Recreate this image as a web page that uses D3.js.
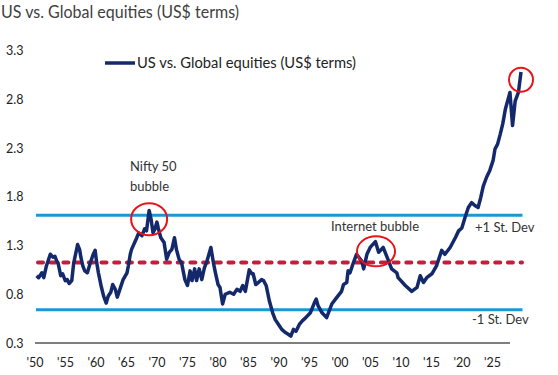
<!DOCTYPE html>
<html>
<head>
<meta charset="utf-8">
<script src="https://cdn.jsdelivr.net/npm/d3@7"></script>
<style>
  body { margin: 0; background: #fff; }
  text { font-family: Lato, "Open Sans", sans-serif; }
</style>
</head>
<body>
<div id="chart"></div>
<script>
// series: year, ratio
const years = [1950.1, 1950.4, 1950.9, 1951.2, 1951.6, 1952.2, 1952.6, 1952.9, 1953.2, 1953.4,
  1953.8, 1954.1, 1954.5, 1954.8, 1955.1, 1955.5, 1955.8, 1956.4, 1956.7, 1956.9,
  1957.2, 1957.5, 1957.9, 1958.3, 1958.8, 1959.1, 1959.3, 1959.6, 1960.0, 1960.4,
  1960.8, 1961.1, 1961.5, 1961.8, 1962.2, 1962.5, 1962.9, 1963.4, 1964.0, 1964.2,
  1964.5, 1964.7, 1965.5, 1965.8, 1966.3, 1966.7, 1967.0, 1967.4, 1967.7, 1968.0,
  1968.3, 1968.6, 1968.8, 1969.2, 1969.7, 1970.1, 1970.5, 1970.9, 1971.3, 1971.6,
  1972.0, 1972.4, 1972.9, 1973.3, 1973.7, 1974.0, 1974.4, 1974.7, 1975.1, 1975.5,
  1975.9, 1976.3, 1976.6, 1976.9, 1977.3, 1977.6, 1978.0, 1978.3, 1978.7, 1979.1,
  1979.8, 1980.4, 1980.9, 1981.4, 1981.8, 1982.2, 1982.8, 1983.2, 1983.4, 1983.8,
  1984.2, 1984.7, 1985.0, 1985.4, 1985.9, 1986.4, 1986.8, 1987.3, 1987.8, 1988.3,
  1988.8, 1989.2, 1989.6, 1990.0, 1990.5, 1991.0, 1991.5, 1992.2, 1992.8, 1993.1,
  1993.4, 1994.0, 1994.7, 1995.5, 1996.3, 1997.0, 1997.3, 1997.8, 1998.0, 1998.3,
  1998.8, 1999.3, 2000.1, 2000.4, 2000.9, 2001.4, 2002.2, 2002.7, 2003.4, 2004.0,
  2004.7, 2005.5, 2005.7, 2006.8, 2007.8, 2008.6, 2009.1, 2009.6, 2010.1, 2010.9,
  2011.6, 2012.4, 2012.9, 2013.7, 2014.5, 2015.0, 2015.5, 2016.0, 2016.5, 2017.0,
  2017.5, 2018.0, 2018.4, 2018.8, 2019.3, 2019.8, 2020.3, 2020.6, 2021.0, 2021.4,
  2021.8, 2022.2, 2022.7, 2022.9, 2023.3, 2023.7, 2024.2, 2024.6]
const ratio = [0.99, 0.97, 1.02, 0.97, 1.09, 1.21, 1.18, 1.19, 1.14, 1.12,
  0.99, 1.01, 0.94, 0.95, 0.91, 0.94, 1.12, 1.31, 1.26, 1.18,
  1.09, 1.04, 1.02, 1.11, 1.21, 1.25, 1.14, 1.02, 0.89, 0.78,
  0.71, 0.78, 0.82, 0.90, 0.85, 0.77, 0.85, 0.95, 1.02, 1.09,
  1.21, 1.26, 1.38, 1.43, 1.40, 1.47, 1.45, 1.66, 1.57, 1.43,
  1.47, 1.54, 1.48, 1.38, 1.33, 1.16, 1.23, 1.26, 1.38, 1.26,
  1.16, 1.12, 0.95, 0.89, 1.04, 0.94, 1.06, 0.94, 1.06, 0.95,
  1.07, 1.14, 1.21, 1.28, 1.12, 1.02, 0.90, 0.87, 0.70, 0.80,
  0.82, 0.80, 0.85, 0.83, 0.89, 0.83, 1.05, 1.01, 1.01, 0.90,
  0.92, 0.95, 0.94, 0.89, 0.73, 0.61, 0.54, 0.49, 0.44, 0.41,
  0.39, 0.37, 0.44, 0.42, 0.49, 0.53, 0.56, 0.61, 0.71, 0.75,
  0.68, 0.61, 0.56, 0.70, 0.77, 0.83, 0.90, 0.92, 1.04, 1.02,
  1.12, 1.21, 1.14, 1.06, 1.21, 1.28, 1.34, 1.23, 1.28, 1.18,
  1.06, 1.02, 0.97, 0.89, 0.83, 0.87, 0.99, 0.92, 0.97, 1.01,
  1.09, 1.25, 1.21, 1.28, 1.38, 1.45, 1.48, 1.59, 1.69, 1.74,
  1.71, 1.69, 1.79, 1.91, 2.00, 2.07, 2.17, 2.29, 2.34, 2.44,
  2.55, 2.70, 2.82, 2.87, 2.53, 2.78, 2.87, 3.08]

const yTicks = [0.3, 0.8, 1.3, 1.8, 2.3, 2.8, 3.3]
const xLabels = ["'50", "'55", "'60", "'65", "'70", "'75", "'80", "'85", "'90", "'95",
  "'00", "'05", "'10", "'15", "'20", "'25"]

const meanLevel = 1.125
const sdLevels = [1.61, 0.64]
const sdNames = ["+1 St. Dev", "-1 St. Dev"]

// circled episodes: year, value, rx, ry
const circleYears = [1967.4, 2002.3, 2024.6]
const circleValues = [1.57, 1.24, 3.0]
const circleRx = [18, 19, 12]
const circleRy = [16, 15, 12]

const width = 558, height = 375

const x = d3.scaleLinear().domain([1950, 2024.6]).range([36, 521])
const y = d3.scaleLinear().domain([0.3, 3.3]).range([343, 50.5])
const xLab = d3.scalePoint().domain(xLabels).range([35, 492.5])

const data = years.map((yr, i) => ({ year: yr, value: ratio[i] }))

const svg = d3.select("#chart").append("svg")
  .attr("width", width)
  .attr("height", height)

// title
svg.append("text")
  .attr("x", 1)
  .attr("y", 18)
  .attr("font-size", 17)
  .attr("fill", "#404040")
  .attr("textLength", 238)
  .attr("lengthAdjust", "spacingAndGlyphs")
  .text("US vs. Global equities (US$ terms)")

// y labels
svg.selectAll(".ylab")
  .data(yTicks)
  .enter()
  .append("text")
  .attr("class", "ylab")
  .attr("x", 6)
  .attr("y", d => y(d) + 4.5)
  .attr("font-size", 12.5)
  .attr("fill", "#222")
  .text(d => d3.format(".1f")(d))

// x axis line + labels
svg.append("line")
  .attr("x1", 35).attr("x2", 510)
  .attr("y1", y(0.3)).attr("y2", y(0.3))
  .attr("stroke", "#000")
  .attr("stroke-width", 1.2)

svg.selectAll(".xlab")
  .data(xLabels)
  .enter()
  .append("text")
  .attr("class", "xlab")
  .attr("x", d => xLab(d))
  .attr("y", 367)
  .attr("text-anchor", "middle")
  .attr("font-size", 12.5)
  .attr("fill", "#222")
  .text(d => d)

// st dev lines
svg.selectAll(".sd")
  .data(sdLevels)
  .enter()
  .append("line")
  .attr("class", "sd")
  .attr("x1", x(1950)).attr("x2", 522.5)
  .attr("y1", d => y(d)).attr("y2", d => y(d))
  .attr("stroke", "#1b98d4")
  .attr("stroke-width", 3)

// mean dashed
svg.append("line")
  .attr("x1", x(1950) + 2).attr("x2", 522)
  .attr("y1", y(meanLevel)).attr("y2", y(meanLevel))
  .attr("stroke", "#c1203b")
  .attr("stroke-width", 4)
  .attr("stroke-dasharray", "5,7.7")
  .attr("stroke-linecap", "round")

// series
const line = d3.line()
  .x(d => x(d.year))
  .y(d => y(d.value))

svg.append("path")
  .datum(data)
  .attr("d", line)
  .attr("fill", "none")
  .attr("stroke", "#13296b")
  .attr("stroke-width", 3.5)
  .attr("stroke-linejoin", "round")

// circles
svg.selectAll(".ring")
  .data(circleYears)
  .enter()
  .append("ellipse")
  .attr("class", "ring")
  .attr("cx", d => x(d))
  .attr("cy", (d, i) => y(circleValues[i]))
  .attr("rx", (d, i) => circleRx[i])
  .attr("ry", (d, i) => circleRy[i])
  .attr("fill", "none")
  .attr("stroke", "#e8141b")
  .attr("stroke-width", 2)

// annotations
const note = (tx, ty, t, anchor) => svg.append("text")
  .attr("x", tx).attr("y", ty)
  .attr("font-size", 13)
  .attr("fill", "#333")
  .attr("text-anchor", anchor || "start")
  .text(t)

note(130, 171, "Nifty 50")
note(130, 191, "bubble")
note(331, 231, "Internet bubble")
note(475, 232, sdNames[0])
note(472, 324, sdNames[1])

// legend
svg.append("line")
  .attr("x1", 105).attr("x2", 135)
  .attr("y1", 63).attr("y2", 63)
  .attr("stroke", "#13296b")
  .attr("stroke-width", 3.5)

svg.append("text")
  .attr("x", 137)
  .attr("y", 68)
  .attr("font-size", 14.5)
  .attr("fill", "#222")
  .attr("textLength", 219)
  .attr("lengthAdjust", "spacingAndGlyphs")
  .text("US vs. Global equities (US$ terms)")
</script>
</body>
</html>
